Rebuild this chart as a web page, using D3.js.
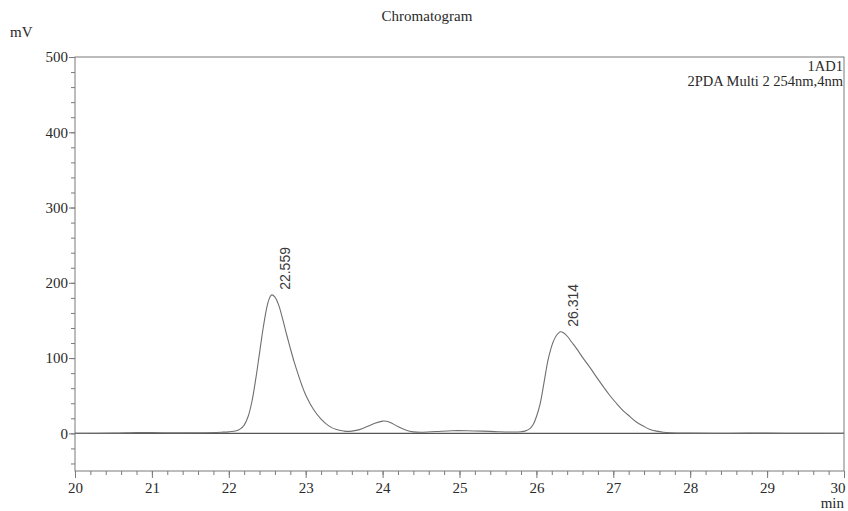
<!DOCTYPE html>
<html>
<head>
<meta charset="utf-8">
<script src="https://cdn.jsdelivr.net/npm/d3@7"></script>
<style>
  html, body { margin: 0; padding: 0; background: #fff; }
  svg { display: block; }
  .axis text { font-family: "Liberation Serif", "Times New Roman", serif; font-size: 15px; fill: #2a2a2a; }
  .axis line, .axis path { stroke: #7a7a7a; }
</style>
</head>
<body>
<svg id="chart" width="848" height="511"></svg>
<script>
// Detector trace (retention time in min, signal in mV)
const signalTime = [
  20.0, 20.5, 20.8, 21.0, 21.3, 21.6, 21.9, 22.0, 22.1, 22.15, 22.2, 22.25, 22.3, 22.35,
  22.4, 22.45, 22.5, 22.53, 22.559, 22.6, 22.65, 22.7, 22.75, 22.8, 22.85, 22.9, 22.95,
  23.0, 23.1, 23.2, 23.3, 23.4, 23.5, 23.55, 23.6, 23.7, 23.8, 23.9, 24.0, 24.05, 24.1,
  24.2, 24.3, 24.4, 24.5, 24.7, 24.9, 25.1, 25.3, 25.5, 25.7, 25.8, 25.85, 25.92, 25.96,
  26.0, 26.05, 26.09, 26.12, 26.15, 26.19, 26.22, 26.26, 26.314, 26.36, 26.41, 26.46,
  26.52, 26.6, 26.7, 26.78, 26.87, 26.95, 27.04, 27.13, 27.22, 27.3, 27.39, 27.47, 27.56,
  27.65, 27.74, 28.0, 28.5, 29.0, 29.5, 30.0
];
const signalMv = [
  0.0, 0.3, 1.0, 1.0, 0.6, 0.8, 1.5, 2.0, 3.5, 6, 11, 22, 42, 72,
  107, 142, 170, 180, 184, 181, 170, 152, 132, 113, 95, 79, 64,
  51, 32, 19, 10, 5, 3, 2.6, 3, 5, 9, 13.5, 16.3, 16, 14.5,
  9, 4.5, 2, 1.5, 2.5, 3.5, 3.5, 3, 2.2, 1.8, 2.2, 3, 6.6, 12,
  22, 40, 62, 80, 97, 113, 122, 130, 135, 133, 128, 121,
  113, 101, 87, 75, 62, 51, 40, 30, 22, 15, 9.7, 5.5, 3,
  1.5, 0.8, 0.3, 0.2, 0.3, 0.1, 0.0
];
// Integration baseline
const baselineTime = [20, 30];
const baselineMv = [0, 0];

// Peak annotations
const peakTimes = [22.559, 26.314];
const peakLabels = ["22.559", "26.314"];

// Axis ticks
const xMajorTicks = [20, 21, 22, 23, 24, 25, 26, 27, 28, 29, 30];
const yMajorTicks = [0, 100, 200, 300, 400, 500];

const titleText = "Chromatogram";
const yUnit = "mV";
const xUnit = "min";
const channelLines = ["1AD1", "2PDA Multi 2 254nm,4nm"];

const svg = d3.select("#chart");
const plotLeft = 75, plotRight = 844, plotTop = 57, plotBottom = 471;

const x = d3.scaleLinear().domain([20, 30]).range([plotLeft, plotRight]);
const y = d3.scaleLinear().domain([-50, 500]).range([plotBottom, plotTop]);

const xMinor = d3.range(20, 30.0001, 0.2).map(v => +v.toFixed(1));
const yMinor = d3.range(-40, 500.0001, 20);

// Minor ticks
svg.append("g").attr("class", "axis")
  .attr("transform", `translate(0,${plotBottom})`)
  .call(d3.axisBottom(x).tickValues(xMinor).tickSize(4).tickFormat(""))
  .call(g => g.select(".domain").remove());
svg.append("g").attr("class", "axis")
  .attr("transform", `translate(${plotLeft},0)`)
  .call(d3.axisLeft(y).tickValues(yMinor).tickSize(4).tickFormat(""))
  .call(g => g.select(".domain").remove());

// Major ticks with labels
svg.append("g").attr("class", "axis")
  .attr("transform", `translate(0,${plotBottom})`)
  .call(d3.axisBottom(x).tickValues(xMajorTicks).tickSize(7).tickPadding(4).tickFormat(d3.format("d")))
  .call(g => g.select(".domain").remove())
  // last label sits flush with the right frame edge
  .call(g => g.selectAll(".tick text").filter(d => d === 30)
    .attr("text-anchor", "end").attr("dx", "1px"));
svg.append("g").attr("class", "axis")
  .attr("transform", `translate(${plotLeft},0)`)
  .call(d3.axisLeft(y).tickValues(yMajorTicks).tickSize(6).tickPadding(1).tickFormat(d3.format("d")))
  .call(g => g.select(".domain").remove());

// Plot frame
svg.append("rect")
  .attr("x", plotLeft).attr("y", plotTop)
  .attr("width", plotRight - plotLeft).attr("height", plotBottom - plotTop)
  .attr("fill", "none").attr("stroke", "#7a7a7a").attr("stroke-width", 1);

// Baseline and trace
const line = d3.line().x(d => x(d[0])).y(d => y(d[1]));
svg.append("path")
  .datum(baselineTime.map((t, i) => [t, baselineMv[i]]))
  .attr("fill", "none").attr("stroke", "#555").attr("stroke-width", 1.1)
  .attr("d", line);

const trace = signalTime.map((t, i) => [t, signalMv[i]]);
svg.append("path")
  .datum(trace)
  .attr("fill", "none").attr("stroke", "#6f6f6f").attr("stroke-width", 1.1)
  .attr("d", d3.line().x(d => x(d[0])).y(d => y(d[1])).curve(d3.curveCatmullRom.alpha(0.5)));

// Peak retention time labels
peakTimes.forEach((t, i) => {
  const idx = signalTime.indexOf(t);
  const px = x(t), py = y(signalMv[idx]);
  svg.append("text")
    .attr("transform", `translate(${px + 13},${py - 5}) rotate(-90)`)
    .attr("dy", "0.35em")
    .attr("font-family", "'Liberation Sans', Arial, sans-serif")
    .attr("font-size", 14)
    .attr("fill", "#3a3a3a")
    .text(peakLabels[i]);
});

const serif = "'Liberation Serif', 'Times New Roman', serif";

svg.append("text")
  .attr("x", 427).attr("y", 21)
  .attr("text-anchor", "middle")
  .attr("font-family", serif).attr("font-size", 15).attr("fill", "#2a2a2a")
  .text(titleText);

svg.append("text")
  .attr("x", 10).attr("y", 37)
  .attr("font-family", serif).attr("font-size", 15).attr("fill", "#2a2a2a")
  .text(yUnit);

svg.append("text")
  .attr("x", plotRight).attr("y", 508)
  .attr("text-anchor", "end")
  .attr("font-family", serif).attr("font-size", 15).attr("fill", "#2a2a2a")
  .text(xUnit);

channelLines.forEach((s, i) => {
  svg.append("text")
    .attr("x", plotRight - 1).attr("y", 71 + i * 14.5)
    .attr("text-anchor", "end")
    .attr("font-family", serif).attr("font-size", 14.5).attr("fill", "#2a2a2a")
    .text(s);
});
</script>
</body>
</html>
